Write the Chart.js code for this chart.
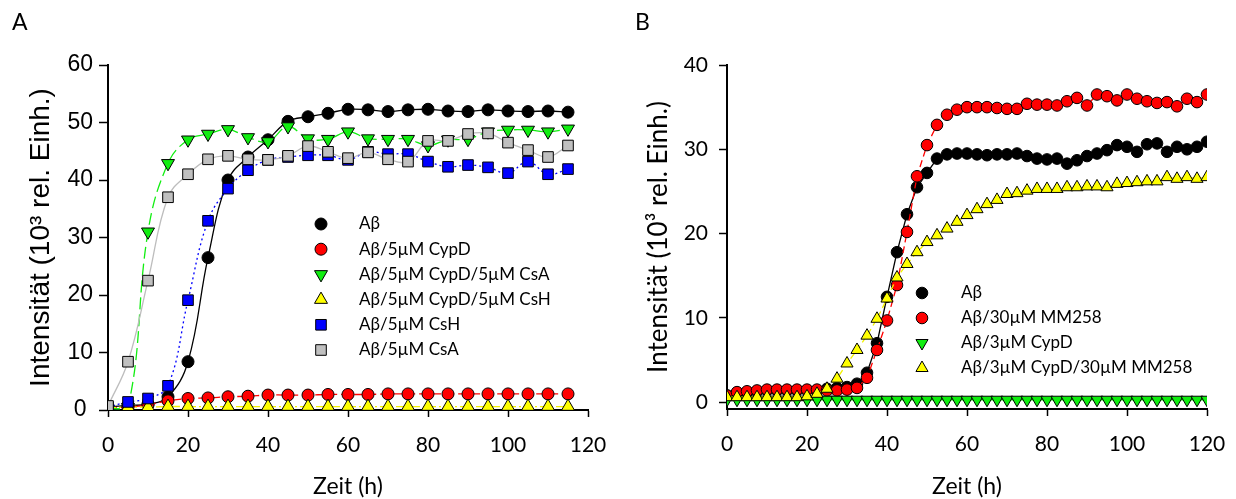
<!DOCTYPE html>
<html>
<head>
<meta charset="utf-8">
<script src="https://cdn.jsdelivr.net/npm/chart.js@4.4.1/dist/chart.umd.min.js"></script>
<style>
  body { margin: 0; background: #fff; }
  #wrap { position: relative; width: 1236px; height: 499px; }
  .panel { position: absolute; top: 0; width: 618px; height: 499px; }
  .tag { position: absolute; top: 7px; font: 23px Lato, "DejaVu Sans", sans-serif; color: #000; }
</style>
</head>
<body>
<div id="wrap">
  <div class="panel" style="left:0"><canvas id="chartA" width="618" height="499"></canvas></div>
  <div class="panel" style="left:618px"><canvas id="chartB" width="618" height="499"></canvas></div>
  <div class="tag" style="left:12px">A</div>
  <div class="tag" style="left:635px">B</div>
</div>
<script>
// Panel A data (Zeit in h, Intensität in 10^3 rel. Einh.)
const hoursA = [0, 5, 10, 15, 20, 25, 30, 35, 40, 45, 50, 55, 60, 65, 70, 75, 80, 85, 90, 95, 100, 105, 110, 115];
const abA = [0.5, 0.8, 1.0, 2.3, 8.4, 26.5, 40.0, 44.0, 47.0, 50.2, 51.0, 51.6, 52.3, 52.2, 51.9, 52.2, 52.3, 52.0, 51.9, 52.2, 52.0, 51.9, 52.0, 51.8];
const cypdA = [0.3, 0.5, 0.9, 1.6, 2.0, 2.1, 2.3, 2.4, 2.6, 2.6, 2.6, 2.7, 2.7, 2.7, 2.8, 2.8, 2.8, 2.8, 2.8, 2.8, 2.8, 2.8, 2.8, 2.8];
const cypdCsaA = [0.2, 0.5, 31.0, 42.9, 47.0, 48.0, 48.8, 47.4, 46.7, 49.3, 47.2, 47.1, 48.4, 47.2, 47.1, 47.1, 46.0, 47.0, 47.1, 48.4, 48.7, 48.7, 48.4, 48.9];
const cypdCshA = [0.4, 0.5, 0.5, 0.6, 0.6, 0.6, 0.6, 0.6, 0.6, 0.6, 0.6, 0.6, 0.6, 0.6, 0.6, 0.6, 0.6, 0.6, 0.6, 0.6, 0.6, 0.6, 0.6, 0.6];
const cshA = [0.5, 1.4, 2.0, 4.2, 19.1, 32.9, 38.5, 41.7, 43.5, 44.0, 44.3, 44.3, 43.5, 44.9, 44.5, 44.5, 43.2, 42.3, 42.6, 42.2, 41.2, 43.2, 41.0, 41.9];
const csaA = [0.7, 8.4, 22.5, 37.0, 41.0, 43.6, 44.2, 43.6, 43.5, 44.2, 45.9, 44.9, 43.8, 44.8, 43.6, 43.2, 46.8, 46.8, 48.0, 48.1, 46.5, 45.2, 44.0, 46.0];
const labelsA = ["A\u03b2", "A\u03b2/5\u00b5M CypD", "A\u03b2/5\u00b5M CypD/5\u00b5M CsA", "A\u03b2/5\u00b5M CypD/5\u00b5M CsH", "A\u03b2/5\u00b5M CsH", "A\u03b2/5\u00b5M CsA"];

// Panel B data
const hoursB = [0, 2.5, 5, 7.5, 10, 12.5, 15, 17.5, 20, 22.5, 25, 27.5, 30, 32.5, 35, 37.5, 40, 42.5, 45, 47.5, 50, 52.5, 55, 57.5,
  60, 62.5, 65, 67.5, 70, 72.5, 75, 77.5, 80, 82.5, 85, 87.5, 90, 92.5, 95, 97.5, 100, 102.5, 105, 107.5, 110, 112.5, 115, 117.5, 120];
const abB = [0.8, 1.1, 1.2, 1.3, 1.4, 1.4, 1.4, 1.4, 1.4, 1.4, 1.6, 1.7, 1.8, 2.2, 3.5, 7.0, 12.5, 17.8, 22.3, 25.5, 27.2, 28.9, 29.4, 29.5,
  29.5, 29.4, 29.3, 29.4, 29.4, 29.5, 29.2, 28.9, 28.8, 28.9, 28.3, 28.7, 29.2, 29.5, 29.9, 30.5, 30.3, 29.7, 30.6, 30.7, 29.7, 30.3, 30.0, 30.3, 30.9];
const mm258B = [0.8, 1.2, 1.3, 1.4, 1.5, 1.5, 1.5, 1.5, 1.5, 1.5, 1.4, 1.4, 1.5, 1.7, 2.9, 6.2, 9.7, 13.9, 20.2, 26.8, 30.5, 32.9, 34.1, 34.7,
  35.0, 35.0, 35.0, 34.9, 34.8, 34.8, 35.4, 35.3, 35.3, 35.2, 35.7, 36.1, 35.2, 36.5, 36.3, 35.8, 36.5, 36.0, 35.7, 35.5, 35.6, 35.1, 36.0, 35.6, 36.5];
const cypdB = [0.3, 0.3, 0.3, 0.3, 0.3, 0.3, 0.3, 0.3, 0.3, 0.3, 0.3, 0.3, 0.3, 0.3, 0.3, 0.3, 0.3, 0.3, 0.3, 0.3, 0.3, 0.3, 0.3, 0.3,
  0.3, 0.3, 0.3, 0.3, 0.3, 0.3, 0.3, 0.3, 0.3, 0.3, 0.3, 0.3, 0.3, 0.3, 0.3, 0.3, 0.3, 0.3, 0.3, 0.3, 0.3, 0.3, 0.3, 0.3, 0.3];
const cypdMmB = [0.6, 0.6, 0.6, 0.6, 0.6, 0.6, 0.6, 0.6, 0.7, 1.0, 1.6, 2.8, 4.6, 6.2, 7.9, 9.9, 12.3, 14.8, 16.4, 17.8, 19.0, 19.8, 20.6, 21.4,
  22.2, 22.9, 23.5, 24.0, 24.7, 24.8, 25.1, 25.3, 25.3, 25.3, 25.5, 25.5, 25.6, 25.6, 25.5, 25.9, 26.0, 26.1, 26.2, 26.2, 26.7, 26.5, 26.7, 26.5, 26.7];
const labelsB = ["A\u03b2", "A\u03b2/30\u00b5M MM258", "A\u03b2/3\u00b5M CypD", "A\u03b2/3\u00b5M CypD/30\u00b5M MM258"];

const xTicks = [0, 20, 40, 60, 80, 100, 120];
const yTicksA = [0, 10, 20, 30, 40, 50, 60];
const yTicksB = [0, 10, 20, 30, 40];

const FONT = "Lato, 'DejaVu Sans', sans-serif";
const ARIAL = "'Liberation Sans', Arial, sans-serif";
const Y_TITLE = "Intensit\u00e4t (10\u00b3 rel. Einh.)";

function pts(xs, ys) {
  return xs.map((x, i) => ({ x: x, y: ys[i] }));
}

function series(label, xs, ys, fill, line, dash, style, r, tension, order) {
  return {
    label: label,
    data: pts(xs, ys),
    borderColor: line,
    backgroundColor: fill,
    borderWidth: 1.3,
    borderDash: dash,
    pointBackgroundColor: fill,
    pointBorderColor: "#000",
    pointBorderWidth: 1,
    pointStyle: style === "down" ? "triangle" : style,
    pointRotation: style === "down" ? 180 : 0,
    pointRadius: r,
    tension: tension,
    order: order
  };
}

// draws the legend inside the plot
const insideLegend = {
  id: "insideLegend",
  afterDraw(chart, args, opts) {
    const ctx = chart.ctx;
    const sets = chart.data.datasets;
    ctx.save();
    sets.forEach((ds, i) => {
      const y = opts.y + i * opts.gap;
      ctx.fillStyle = ds.pointBackgroundColor;
      ctx.strokeStyle = "#000";
      ctx.lineWidth = 1;
      Chart.helpers.drawPoint(ctx, {
        pointStyle: ds.pointStyle,
        rotation: ds.pointRotation,
        radius: ds.pointRadius,
        borderWidth: 1
      }, opts.x, y);
      ctx.fillStyle = "#000";
      ctx.font = "17px " + FONT;
      ctx.textBaseline = "middle";
      ctx.textAlign = "left";
      ctx.fillText(ds.label, opts.textX, y);
    });
    ctx.restore();
  }
};

function makeChart(id, datasets, yMin, yMax, yTicks, legend, pad, yWidth, xHeight, ys) {
  return new Chart(document.getElementById(id), {
    type: "line",
    data: { datasets: datasets },
    options: {
      responsive: false,
      animation: false,
      layout: { padding: pad },
      plugins: {
        legend: { display: false },
        tooltip: { enabled: false },
        insideLegend: legend
      },
      scales: {
        x: {
          type: "linear",
          min: 0,
          max: 120,
          afterBuildTicks: s => { s.ticks = xTicks.map(v => ({ value: v })); },
          afterFit: s => { s.height = xHeight; s.paddingLeft = 0; s.paddingRight = 0; },
          ticks: { color: "#000", font: { size: 21, family: FONT }, padding: 16, maxRotation: 0 },
          grid: { drawOnChartArea: false, color: "#000", tickLength: 7, tickWidth: 1.5 },
          border: { color: "#000", width: 2 },
          title: { display: true, text: "Zeit (h)", color: "#000", font: { size: 23, family: FONT, lineHeight: 1.05 }, padding: { top: 0, bottom: 0 } }
        },
        y: {
          min: yMin,
          max: yMax,
          afterBuildTicks: s => { s.ticks = yTicks.map(v => ({ value: v })); },
          afterFit: s => { s.width = yWidth; s.paddingTop = 0; s.paddingBottom = 0; },
          ticks: { color: "#000", font: { size: ys.tickSize, family: ys.family }, padding: ys.tickPad, crossAlign: ys.align },
          grid: { drawOnChartArea: false, color: "#000", tickLength: ys.tickLen, tickWidth: 1.5 },
          border: { color: "#000", width: 2 },
          title: { display: true, text: Y_TITLE, color: "#000", font: { size: ys.titleSize, family: ys.family }, padding: { top: ys.titlePad, bottom: 0 } }
        }
      }
    },
    plugins: [insideLegend]
  });
}

const dsA = [
  series(labelsA[0], hoursA, abA, "#000000", "#000000", [], "circle", 6, 0.4, 5),
  series(labelsA[1], hoursA, cypdA, "#ff0000", "#ff0000", [9, 4], "circle", 6, 0.4, 4),
  series(labelsA[2], hoursA, cypdCsaA, "#11ee11", "#11ee11", [12, 5], "down", 7.5, 0.4, 3),
  series(labelsA[3], hoursA, cypdCshA, "#ffff00", "#f2f200", [8, 3, 2, 3], "triangle", 7.5, 0.4, 2),
  series(labelsA[4], hoursA, cshA, "#0000ff", "#0000ff", [2, 3], "rect", 7.5, 0.4, 1),
  series(labelsA[5], hoursA, csaA, "#c0c0c0", "#bdbdbd", [], "rect", 7.5, 0.4, 0)
];

const dsB = [
  series(labelsB[0], hoursB, abB, "#000000", "#000000", [], "circle", 5.8, 0, 3),
  series(labelsB[1], hoursB, mm258B, "#ff0000", "#ff0000", [7, 4], "circle", 5.8, 0, 2),
  series(labelsB[2], hoursB, cypdB, "#11ee11", "#11ee11", [], "down", 7, 0, 1),
  series(labelsB[3], hoursB, cypdMmB, "#ffff00", "#f2f200", [6, 4], "triangle", 7, 0, 0)
];

makeChart("chartA", dsA, 0, 60, yTicksA,
  { x: 321, y: 224, gap: 25.2, textX: 359 },
  { left: 24, right: 30, top: 65, bottom: 0 }, 84, 89,
  { family: ARIAL, tickSize: 23, tickPad: 6, tickLen: 9, align: "center", titleSize: 28, titlePad: 0 });

makeChart("chartB", dsB, -0.8, 40, yTicksB,
  { x: 304, y: 293, gap: 25, textX: 343 },
  { left: 24, right: 29, top: 65, bottom: 0 }, 85, 90,
  { family: FONT, tickSize: 21, tickPad: 11, tickLen: 8, align: "near", titleSize: 26, titlePad: 1 });
</script>
</body>
</html>
